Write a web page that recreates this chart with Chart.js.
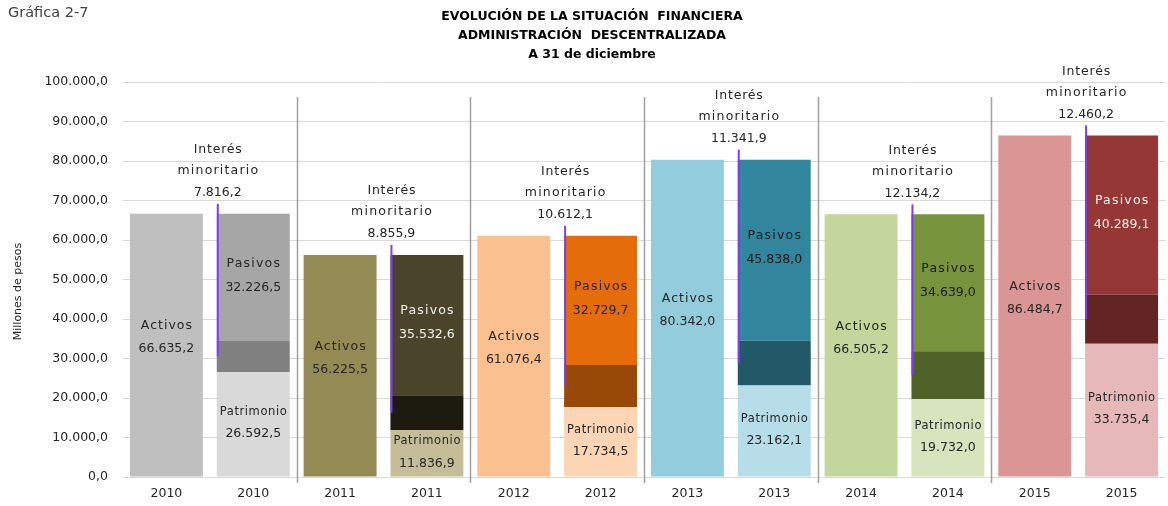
<!DOCTYPE html>
<html>
<head>
<meta charset="utf-8">
<script src="https://cdn.jsdelivr.net/npm/chart.js@4.4.1/dist/chart.umd.min.js"></script>
<style>
  html, body { margin: 0; padding: 0; background: #fff; }
  #wrap { width: 1168px; height: 506px; position: relative; }
</style>
</head>
<body>
<div id="wrap"><canvas id="myChart"></canvas></div>
<script>
// values in millones de pesos
const years = ['2010', '2011', '2012', '2013', '2014', '2015'];
const activos = [66635.2, 56225.5, 61076.4, 80342.0, 66505.2, 86484.7];
const patrimonio = [26592.5, 11836.9, 17734.5, 23162.1, 19732.0, 33735.4];
const interes = [7816.2, 8855.9, 10612.1, 11341.9, 12134.2, 12460.2];
const pasivos = [32226.5, 35532.6, 32729.7, 45838.0, 34639.0, 40289.1];
const yTicks = [0, 10000, 20000, 30000, 40000, 50000, 60000, 70000, 80000, 90000, 100000];
const titleLines = ['EVOLUCIÓN DE LA SITUACIÓN  FINANCIERA', 'ADMINISTRACIÓN  DESCENTRALIZADA', 'A 31 de diciembre'];

// colours per year
const colActivos = ['#bfbfbf', '#948a54', '#fac090', '#93cddd', '#c3d69b', '#d99694'];
const colPatrimonio = ['#d9d9d9', '#c4bd97', '#fcd5b5', '#b7dee8', '#d7e4bd', '#e6b9b8'];
const colInteres = ['#808080', '#1d1b10', '#984807', '#215968', '#4f6228', '#632523'];
const colPasivos = ['#a6a6a6', '#4a452a', '#e46c0a', '#31859c', '#77933c', '#953735'];
const txtPasivos = ['#262626', '#f2f2f2', '#262626', '#1a1a1a', '#1a1a1a', '#f2f2f2'];

const TXT = '#262626';
const FONT = "'DejaVu Sans', 'Noto Sans', sans-serif";

// two categories per year: Activos bar, then stacked bar
const labels = [];
years.forEach(y => { labels.push(y); labels.push(y); });
const onFirst = arr => arr.flatMap(v => [v, null]);
const onSecond = arr => arr.flatMap(v => [null, v]);

function fmt(v) {
  const parts = v.toFixed(1).split('.');
  return parts[0].replace(/\B(?=(\d{3})+(?!\d))/g, '.') + ',' + parts[1];
}

function word(c, text, x, y, sp) {
  c.letterSpacing = sp + 'px';
  c.fillText(text, x + sp / 2, y);
  c.letterSpacing = '0px';
}

const extras = {
  id: 'extras',
  beforeDraw(chart) {
    const c = chart.ctx;
    const area = chart.chartArea;
    c.save();
    c.textAlign = 'center';
    c.textBaseline = 'middle';
    c.fillStyle = '#000';
    c.font = 'bold 12.5px ' + FONT;
    titleLines.forEach((t, i) => c.fillText(t, 592, 17 + i * 19));
    c.textAlign = 'left';
    c.fillStyle = '#404040';
    c.font = '14.5px ' + FONT;
    c.fillText('Gráfica 2-7', 8, 13);

    // y axis title
    c.translate(18, (area.top + area.bottom) / 2 + 12);
    c.rotate(-Math.PI / 2);
    c.textAlign = 'center';
    c.fillStyle = TXT;
    c.font = '11px ' + FONT;
    c.fillText('Millones de pesos', 0, 0);
    c.restore();
  },
  afterDatasetsDraw(chart) {
    const c = chart.ctx;
    const area = chart.chartArea;
    const xs = chart.scales.x;
    c.save();

    // separators between years
    c.strokeStyle = '#a0a0a0';
    c.lineWidth = 1.5;
    for (let k = 1; k < years.length; k++) {
      const x = Math.round(xs.getPixelForValue(2 * k - 0.5)) + 0.5;
      c.beginPath();
      c.moveTo(x, area.top + 15);
      c.lineTo(x, area.bottom + 6);
      c.stroke();
    }

    c.textAlign = 'center';
    c.textBaseline = 'middle';
    const mA = chart.getDatasetMeta(0).data;
    const mPa = chart.getDatasetMeta(1).data;
    const mI = chart.getDatasetMeta(2).data;
    const mP = chart.getDatasetMeta(3).data;

    years.forEach((y, i) => {
      c.font = '12.5px ' + FONT;
      // Activos
      const a = mA[2 * i];
      let mid = (a.y + a.base) / 2 - 8;
      c.fillStyle = TXT;
      word(c, 'Activos', a.x, mid - 11, 1);
      c.fillText(fmt(activos[i]), a.x, mid + 12);

      // Pasivos
      const p = mP[2 * i + 1];
      mid = (p.y + p.base) / 2 - 2;
      c.fillStyle = txtPasivos[i];
      word(c, 'Pasivos', p.x, mid - 12, 1.2);
      c.fillText(fmt(pasivos[i]), p.x, mid + 12);

      // Patrimonio
      const pa = mPa[2 * i + 1];
      mid = (pa.y + pa.base) / 2 - 1;
      c.fillStyle = TXT;
      c.font = '11.5px ' + FONT;
      word(c, 'Patrimonio', pa.x, mid - 11, 0.6);
      c.font = '12.5px ' + FONT;
      c.fillText(fmt(patrimonio[i]), pa.x, mid + 11);

      // Interés minoritario with leader line
      const it = mI[2 * i + 1];
      const lx = it.x - it.width / 2 + 1;
      const top = p.y - 10;
      c.strokeStyle = '#7f3cf5';
      c.lineWidth = 2;
      c.beginPath();
      c.moveTo(lx, top);
      c.lineTo(lx, (it.y + it.base) / 2);
      c.stroke();
      c.fillStyle = TXT;
      c.fillText(fmt(interes[i]), lx, top - 11);
      word(c, 'minoritario', lx, top - 33, 1.2);
      word(c, 'Interés', lx, top - 54, 0.8);
    });
    c.restore();
  }
};

const ctx = document.getElementById('myChart');

new Chart(ctx, {
  type: 'bar',
  data: {
    labels: labels,
    datasets: [
      { label: 'Activos', data: onFirst(activos), backgroundColor: onFirst(colActivos) },
      { label: 'Patrimonio', data: onSecond(patrimonio), backgroundColor: onSecond(colPatrimonio) },
      { label: 'Interés minoritario', data: onSecond(interes), backgroundColor: onSecond(colInteres) },
      { label: 'Pasivos', data: onSecond(pasivos), backgroundColor: onSecond(colPasivos) }
    ]
  },
  options: {
    responsive: true,
    maintainAspectRatio: false,
    animation: false,
    barPercentage: 0.84,
    categoryPercentage: 1.0,
    layout: { padding: { left: 0, right: 3, top: 82, bottom: 0 } },
    plugins: {
      legend: { display: false },
      tooltip: { enabled: false },
      title: { display: false }
    },
    scales: {
      x: {
        stacked: true,
        grid: { display: false },
        border: { display: false },
        afterFit: s => { s.height = 29; },
        ticks: { color: TXT, font: { family: FONT, size: 12.5 }, padding: 1, maxRotation: 0, autoSkip: false }
      },
      y: {
        stacked: true,
        min: 0,
        max: 100000,
        afterBuildTicks: s => { s.ticks = yTicks.map(v => ({ value: v })); },
        afterFit: s => { s.width = 123; },
        grid: { color: '#d9d9d9', lineWidth: 1, drawTicks: false },
        border: { display: false },
        ticks: { color: TXT, font: { family: FONT, size: 12.5 }, padding: 15, callback: v => fmt(v) }
      }
    }
  },
  plugins: [extras]
});
</script>
</body>
</html>
